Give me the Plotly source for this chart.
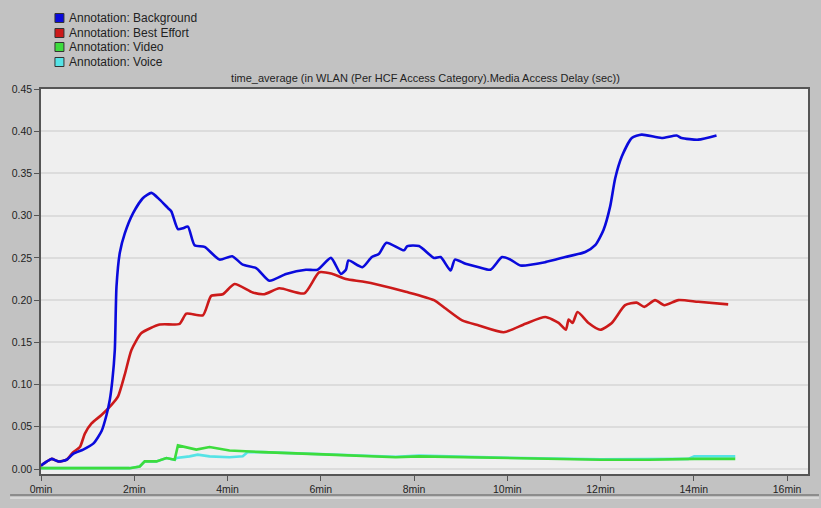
import plotly.graph_objects as go

# ---------------- data (minutes, seconds) ----------------
bg_t = [0, 0.128, 0.229, 0.37, 0.55, 0.69, 0.905, 1.12, 1.30, 1.405, 1.476, 1.53, 1.583, 1.619, 1.69, 1.797,
        1.975, 2.188, 2.368, 2.545, 2.723, 2.796, 2.937, 3.04, 3.151, 3.294, 3.508, 3.829, 4.1, 4.327, 4.614,
        4.898, 5.256, 5.683, 5.932, 6.218, 6.432, 6.539, 6.595, 6.894, 7.095, 7.251, 7.408, 7.786, 7.857,
        8.107, 8.428, 8.571, 8.785, 8.877, 9.106, 9.39, 9.64, 9.889, 10.068, 10.282, 10.817, 11.245, 11.673,
        11.886, 12.064, 12.207, 12.314, 12.456, 12.67, 12.883, 13.311, 13.632, 13.739, 14.096, 14.488]
bg_v = [0.004, 0.009, 0.012, 0.009, 0.011, 0.018, 0.023, 0.030, 0.045, 0.064, 0.082, 0.105, 0.141, 0.216, 0.256,
        0.279, 0.303, 0.321, 0.327, 0.319, 0.309, 0.305, 0.284, 0.285, 0.287, 0.265, 0.263, 0.248, 0.252, 0.242,
        0.238, 0.223, 0.231, 0.236, 0.236, 0.250, 0.231, 0.236, 0.247, 0.239, 0.251, 0.255, 0.268, 0.259, 0.264,
        0.264, 0.250, 0.251, 0.235, 0.248, 0.243, 0.239, 0.236, 0.251, 0.248, 0.241, 0.245, 0.251, 0.257, 0.265,
        0.283, 0.311, 0.344, 0.370, 0.392, 0.396, 0.392, 0.395, 0.392, 0.390, 0.395]

be_t = [0, 0.128, 0.229, 0.37, 0.55, 0.69, 0.834, 0.941, 1.084, 1.298, 1.512, 1.653, 1.797, 1.94, 2.154, 2.545,
        2.973, 3.117, 3.472, 3.651, 3.9, 4.15, 4.541, 4.791, 5.112, 5.647, 5.968, 6.252, 6.539, 6.894, 7.251,
        7.822, 8.428, 8.678, 9.033, 9.39, 9.925, 10.389, 10.817, 11.102, 11.258, 11.316, 11.401, 11.508,
        11.743, 11.994, 12.242, 12.528, 12.777, 12.941, 13.17, 13.369, 13.668, 14.096, 14.738]
be_v = [0.004, 0.009, 0.012, 0.009, 0.011, 0.020, 0.026, 0.042, 0.054, 0.064, 0.076, 0.086, 0.112, 0.141, 0.161,
        0.171, 0.172, 0.184, 0.182, 0.205, 0.207, 0.219, 0.209, 0.207, 0.214, 0.208, 0.233, 0.231, 0.225, 0.222,
        0.218, 0.210, 0.200, 0.190, 0.176, 0.170, 0.162, 0.172, 0.180, 0.173, 0.165, 0.177, 0.173, 0.186, 0.173,
        0.165, 0.173, 0.194, 0.197, 0.192, 0.200, 0.194, 0.200, 0.198, 0.195]

vid_t = [0, 1.0, 1.9, 2.118, 2.225, 2.475, 2.689, 2.866, 2.937, 3.33, 3.615, 4.043, 4.749, 6.182, 7.609, 8.107,
         9.82, 12.0, 13.03, 14.01, 14.89]
vid_v = [0.001, 0.001, 0.001, 0.003, 0.009, 0.009, 0.013, 0.011, 0.028, 0.023, 0.026, 0.022, 0.020, 0.017, 0.014,
         0.015, 0.013, 0.011, 0.011, 0.012, 0.012]

voi_t = [0, 1.0, 1.9, 2.118, 2.225, 2.475, 2.689, 2.866, 2.902, 3.187, 3.36, 3.615, 4.043, 4.327, 4.434, 4.749,
         6.182, 7.609, 8.107, 9.82, 12.0, 13.88, 14.01, 14.89]
voi_v = [0.001, 0.001, 0.001, 0.003, 0.009, 0.009, 0.013, 0.011, 0.013, 0.015, 0.017, 0.015, 0.014, 0.015, 0.020,
         0.020, 0.017, 0.0145, 0.016, 0.0135, 0.0115, 0.012, 0.015, 0.015]

series_names = ["Annotation: Background", "Annotation: Best Effort", "Annotation: Video", "Annotation: Voice"]
series_colors = ["#0a0adc", "#cc1a1a", "#3ddc3d", "#55e3e6"]

x_tick_vals = [0, 2, 4, 6, 8, 10, 12, 14, 16]
x_tick_text = ["0min", "2min", "4min", "6min", "8min", "10min", "12min", "14min", "16min"]
y_tick_vals = [0.0, 0.05, 0.10, 0.15, 0.20, 0.25, 0.30, 0.35, 0.40, 0.45]

title_text = "time_average (in WLAN (Per HCF Access Category).Media Access Delay (sec))"

# ---------------- figure ----------------
W, H = 821, 508
L, R, T, B = 41, 11, 89, 34
pw, ph = W - L - R, H - T - B

fig = go.Figure()
# draw order: Voice, Video, Best Effort, Background
fig.add_trace(go.Scatter(x=voi_t, y=voi_v, mode="lines", name=series_names[3],
                         line=dict(color=series_colors[3], width=2.6), showlegend=False))
fig.add_trace(go.Scatter(x=vid_t, y=vid_v, mode="lines", name=series_names[2],
                         line=dict(color=series_colors[2], width=2.6), showlegend=False))
fig.add_trace(go.Scatter(x=be_t, y=be_v, mode="lines", name=series_names[1],
                         line=dict(color=series_colors[1], width=2.6, shape="spline", smoothing=0.6),
                         showlegend=False))
fig.add_trace(go.Scatter(x=bg_t, y=bg_v, mode="lines", name=series_names[0],
                         line=dict(color=series_colors[0], width=2.6, shape="spline", smoothing=0.6),
                         showlegend=False))

font_family = "Liberation Sans, Arial, sans-serif"

fig.update_layout(
    width=W, height=H,
    margin=dict(l=L, r=R, t=T, b=B, pad=0),
    paper_bgcolor="#c2c2c2",
    plot_bgcolor="#efefef",
    font=dict(family=font_family, size=10, color="#222222"),
    title=dict(text=title_text, x=(L + pw / 2) / W, xanchor="center",
               y=1 - 78 / H, yanchor="middle", font=dict(size=11, color="#222222")),
    xaxis=dict(range=[0, 16.45], tickvals=x_tick_vals, ticktext=x_tick_text,
               showgrid=False, zeroline=False, showline=True, linecolor="#555555", linewidth=1.5,
               mirror=True, ticks="outside", ticklen=5, tickcolor="#555555",
               tickfont=dict(size=10.5, color="#222222")),
    yaxis=dict(range=[-0.0059, 0.45], tickvals=y_tick_vals, tickformat=".2f",
               showgrid=True, gridcolor="#dcdcdc", gridwidth=1.5, zeroline=False,
               showline=True, linecolor="#555555", linewidth=1.5, mirror=True,
               ticks="outside", ticklen=5, tickcolor="#555555",
               tickfont=dict(size=10.5, color="#222222")),
)

# legend drawn as boxes + text (matching the compact original spacing)
def px_x(px):
    return (px - L) / pw

def px_y(py):
    return (H - B - py) / ph

row_y = [18, 33, 47, 62]
for name, color, yy in zip(series_names, series_colors, row_y):
    fig.add_shape(type="rect", xref="paper", yref="paper",
                  x0=px_x(55), x1=px_x(64), y0=px_y(yy + 4.5), y1=px_y(yy - 4.5),
                  fillcolor=color, line=dict(color="#333333", width=1))
    fig.add_annotation(text=name, xref="paper", yref="paper", x=px_x(67), y=px_y(yy),
                       xanchor="left", yanchor="middle", showarrow=False,
                       font=dict(size=12, color="#222222", family=font_family))

# window frame line at bottom
fig.add_shape(type="line", xref="paper", yref="paper", x0=px_x(10), x1=px_x(821),
              y0=px_y(495), y1=px_y(495), line=dict(color="#8c8c8c", width=2))
fig.add_shape(type="line", xref="paper", yref="paper", x0=px_x(10), x1=px_x(821),
              y0=px_y(498), y1=px_y(498), line=dict(color="#d8d8d8", width=2))

fig.write_html("out.html")
